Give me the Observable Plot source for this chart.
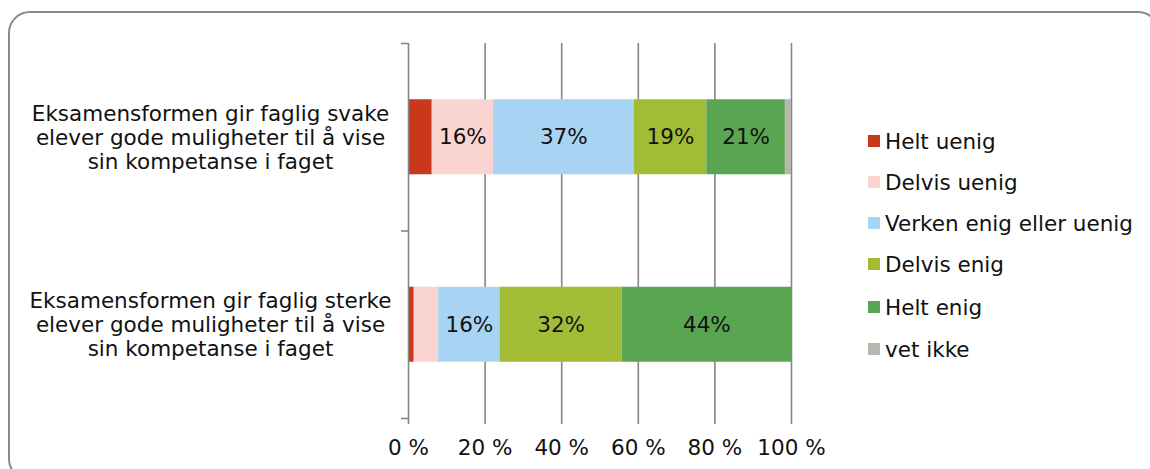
<!DOCTYPE html>
<html>
<head>
<meta charset="utf-8">
<script src="https://cdn.jsdelivr.net/npm/d3@7"></script>
<script src="https://cdn.jsdelivr.net/npm/@observablehq/plot@0.6"></script>
<style>
  html, body { margin: 0; padding: 0; background: #fff; overflow: hidden; }
  #wrap { position: relative; width: 1150px; height: 469px; overflow: hidden; font-family: "DejaVu Sans", Verdana, sans-serif; }
  #frame { position: absolute; left: 8px; top: 11px; width: 1152px; height: 470px; border: 2px solid #8a8a8a; border-radius: 22px; box-sizing: border-box; }
  #chart { position: absolute; left: 0; top: 0; }
  #legend { position: absolute; left: 868px; top: 120px; font-size: 21.5px; color: #111; }
  .row { position: absolute; left: 0; height: 24px; display: flex; align-items: center; white-space: nowrap; }
  .sw { width: 12px; height: 12px; margin-right: 5px; flex: none; }
</style>
</head>
<body>
<div id="wrap">
  <div id="frame"></div>
  <div id="chart"></div>
  <div id="legend"></div>
</div>
<script>
// Data
const categories = [
  "Eksamensformen gir faglig svake\nelever gode muligheter til å vise\nsin kompetanse i faget",
  "Eksamensformen gir faglig sterke\nelever gode muligheter til å vise\nsin kompetanse i faget"
];
const seriesNames = ["Helt uenig", "Delvis uenig", "Verken enig eller uenig", "Delvis enig", "Helt enig", "vet ikke"];
const seriesColors = ["#C9381A", "#F9D4D0", "#A9D3F3", "#A2BD35", "#5AA552", "#B7B7AF"];
const valuesSvake  = [6.2, 16.0, 36.7, 19.0, 20.5, 1.6];
const valuesSterke = [1.5, 6.4, 16.0, 31.9, 44.2, 0.0];
const xTicks = [0, 20, 40, 60, 80, 100];

// Build stacked table
const allValues = [valuesSvake, valuesSterke];
const rows = [];
categories.forEach((cat, i) => {
  let acc = 0;
  allValues[i].forEach((v, j) => {
    rows.push({cat, idx: i, series: seriesNames[j], value: v, x1: acc, x2: acc + v});
    acc += v;
  });
});
const gray = "#868686";
const FS = 21.5;

const chart = Plot.plot({
  width: 1150,
  height: 469,
  marginLeft: 408,
  marginRight: 359,
  marginTop: 43,
  marginBottom: 51,
  style: {fontFamily: "DejaVu Sans, Verdana, sans-serif", fontSize: FS + "px", color: "#111", background: "transparent", overflow: "visible"},
  x: {domain: [0, 100]},
  y: {domain: [0, categories.length], reverse: true},
  color: {domain: seriesNames, range: seriesColors},
  marks: [
    Plot.gridX({ticks: xTicks.filter(d => d > 0), stroke: gray, strokeOpacity: 1, strokeWidth: 1.6}),
    Plot.rectX(rows.filter(d => d.value > 0), {
      x1: "x1", x2: "x2",
      y1: d => d.idx + 0.3, y2: d => d.idx + 0.7,
      fill: "series"
    }),
    Plot.text(rows.filter(d => d.value >= 10), {
      x: d => (d.x1 + d.x2) / 2,
      y: d => d.idx + 0.5,
      text: d => Math.round(d.value) + "%",
      fill: "#111",
      fontSize: FS
    }),
    Plot.ruleX([0], {stroke: gray, strokeWidth: 1.6}),
    Plot.axisY({ticks: d3.range(categories.length + 1), tickSize: 7, text: null, stroke: gray, strokeWidth: 1.6}),
    Plot.axisX({ticks: xTicks, tickSize: 6, tickPadding: 15, tickFormat: d => d + " %", stroke: gray, strokeWidth: 1.6, fill: "#111", fontSize: FS}),
    Plot.text(categories, {
      y: (d, i) => i + 0.5,
      frameAnchor: "left",
      dx: -198,
      textAnchor: "middle",
      lineHeight: 24 / FS,
      text: d => d,
      fill: "#111",
      fontSize: FS
    })
  ]
});
document.getElementById("chart").appendChild(chart);

// Legend
const legend = document.getElementById("legend");
const rowCenters = [141, 182, 223, 264, 307, 349];
seriesNames.forEach((name, j) => {
  const r = document.createElement("div");
  r.className = "row";
  r.style.top = (rowCenters[j] - 12 - 120) + "px";
  const sw = document.createElement("div");
  sw.className = "sw";
  sw.style.background = seriesColors[j];
  const t = document.createElement("span");
  t.textContent = name;
  r.appendChild(sw);
  r.appendChild(t);
  legend.appendChild(r);
});
</script>
</body>
</html>
